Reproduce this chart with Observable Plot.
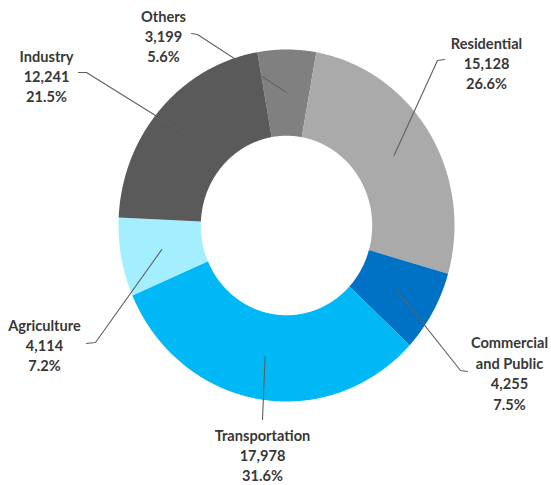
<!DOCTYPE html>
<html>
<head>
<meta charset="utf-8">
<script src="https://cdn.jsdelivr.net/npm/d3@7"></script>
<script src="https://cdn.jsdelivr.net/npm/@observablehq/plot@0.6"></script>
<style>
  html, body { margin: 0; padding: 0; background: #fff; }
  #chart svg { display: block; }
</style>
</head>
<body>
<div id="chart"></div>
<script>
// ---- data ----
const categories = ["Others", "Residential", "Commercial and Public", "Transportation", "Agriculture", "Industry"];
const values = [3199, 15128, 4255, 17978, 4114, 12241];
const colors = ["#808080", "#AAAAAA", "#0072C6", "#00B8F5", "#A3EEFF", "#5A5A5A"];

// ---- layout ----
const W = 551, H = 485;
const cx = 286, cy = 225, RX = 168, RY = 176;   // pixel centre and outer radii
const innerRatio = 0.51;
const startDeg = -10;                            // first slice start (clockwise from top)
const labelPos = [[163, 35], [486, 62], [509, 372], [262, 454], [44, 344], [46, 75]];
const leaderStart = [
  [[191, 33], [197, 34]],
  [[444, 59], [437, 60]],
  [[467, 371], [460, 370]],
  [[262, 419]],
  [[86, 343], [95, 342]],
  [[78, 72], [86, 72]]
];
const toUnit = ([px, py]) => [(px - cx) / RX, (cy - py) / RY];

const total = d3.sum(values);
const fmt = d3.format(",");
let acc = 0;
const slices = categories.map((c, i) => {
  const a0 = startDeg + acc / total * 360;
  acc += values[i];
  const a1 = startDeg + acc / total * 360;
  return {c, i, v: values[i], a0, a1, mid: (a0 + a1) / 2};
});
const pt = (deg, r) => {
  const t = deg * Math.PI / 180;
  return [r * Math.sin(t), r * Math.cos(t)];
};

// slice outlines
const polys = [];
for (const s of slices) {
  const n = Math.max(2, Math.ceil((s.a1 - s.a0) / 0.5));
  for (let k = 0; k <= n; k++) {
    const [x, y] = pt(s.a0 + (s.a1 - s.a0) * k / n, 1);
    polys.push({c: s.c, x, y});
  }
  for (let k = n; k >= 0; k--) {
    const [x, y] = pt(s.a0 + (s.a1 - s.a0) * k / n, innerRatio);
    polys.push({c: s.c, x, y});
  }
}

// leader lines
const leaders = [];
slices.forEach((s, i) => {
  for (const p of leaderStart[i]) {
    const [x, y] = toUnit(p);
    leaders.push({c: s.c, x, y});
  }
  const [x, y] = pt(s.mid, (1 + innerRatio) / 2);
  leaders.push({c: s.c, x, y});
});

// labels
const labels = slices.map((s, i) => {
  const [x, y] = toUnit(labelPos[i]);
  const name = s.c.replace(" and ", "\nand ");
  const pct = (s.v / total * 100).toFixed(1) + "%";
  return {x, y, text: `${name}\n${fmt(s.v)}\n${pct}`};
});

const chart = Plot.plot({
  width: W,
  height: H,
  margin: 0,
  x: {domain: [-cx / RX, (W - cx) / RX], range: [0, W], axis: null},
  y: {domain: [-(H - cy) / RY, cy / RY], range: [H, 0], axis: null},
  color: {domain: categories, range: colors},
  marks: [
    Plot.line(polys, {x: "x", y: "y", z: "c", fill: "c", stroke: "none", curve: "linear"}),
    Plot.line(leaders, {x: "x", y: "y", z: "c", stroke: "#5f5f5f", strokeWidth: 1.1, curve: "linear"}),
    Plot.text(labels, {
      x: "x", y: "y", text: "text",
      fontSize: 14.6, fontWeight: "bold", lineHeight: 1.4,
      fill: "#383838", textAnchor: "middle", lineAnchor: "middle",
      fontFamily: "Lato"
    })
  ]
});
document.getElementById("chart").appendChild(chart);
</script>
</body>
</html>
